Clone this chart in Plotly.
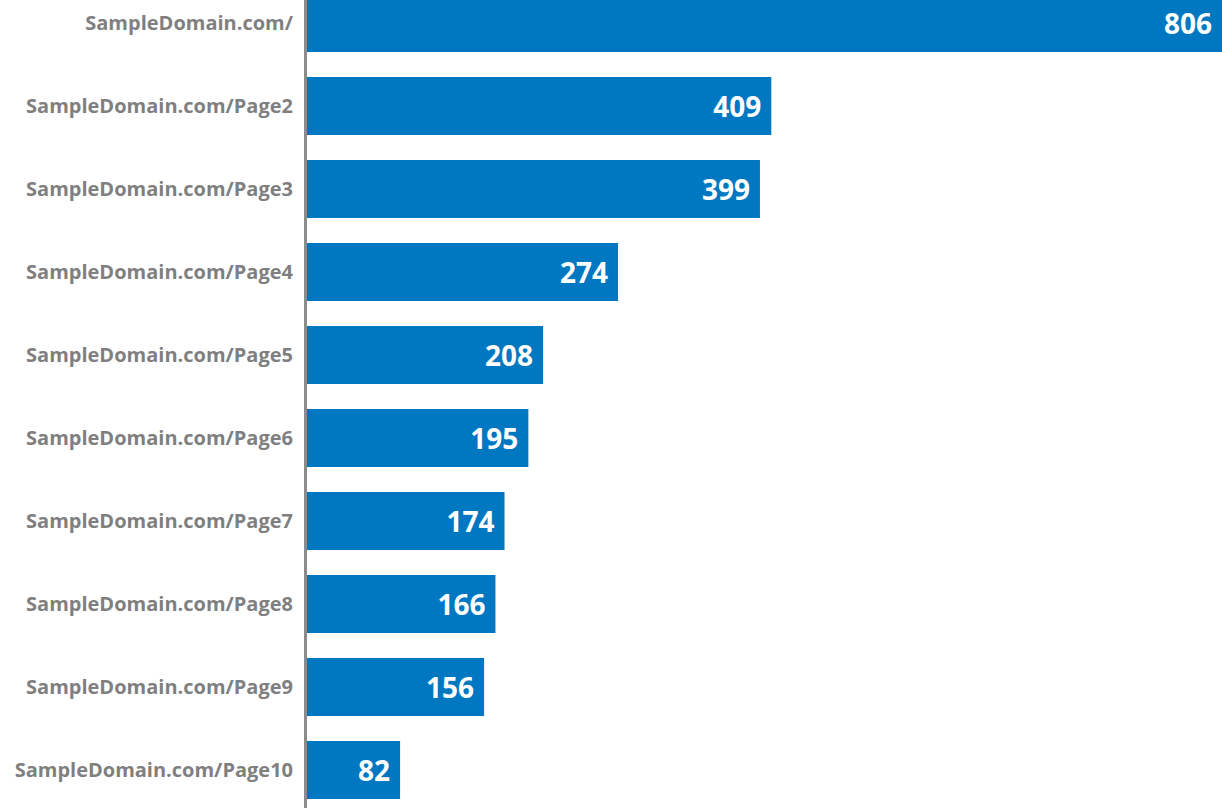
import plotly.graph_objects as go

categories = ["SampleDomain.com/", "SampleDomain.com/Page2", "SampleDomain.com/Page3",
              "SampleDomain.com/Page4", "SampleDomain.com/Page5", "SampleDomain.com/Page6",
              "SampleDomain.com/Page7", "SampleDomain.com/Page8", "SampleDomain.com/Page9",
              "SampleDomain.com/Page10"]
values = [806, 409, 399, 274, 208, 195, 174, 166, 156, 82]

fig = go.Figure(go.Bar(
    x=values, y=categories, orientation="h",
    marker=dict(color="#0078C1", line=dict(width=0)),
    text=[str(v) + "\u2005" for v in values], textposition="inside", insidetextanchor="end",
    textfont=dict(family="Open Sans", size=28, color="white", weight="bold"),
    cliponaxis=False,
))

fig.update_layout(
    width=1222, height=808,
    margin=dict(l=307, r=0, t=0, b=0),
    paper_bgcolor="white", plot_bgcolor="white",
    bargap=0.3, showlegend=False,
    xaxis=dict(range=[0, 806], visible=False),
    yaxis=dict(
        categoryorder="array", categoryarray=categories,
        range=[9.458, -0.277],
        showline=True, linecolor="#8C8C8C", linewidth=3,
        showgrid=False, zeroline=False, ticks="", ticklabelstandoff=7,
        tickfont=dict(family="Open Sans", size=20, color="#7F7F7F", weight="bold"),
    ),
)

fig.write_html("out.html", config={"displayModeBar": False},
               post_script="document.body.style.margin='0';document.body.style.overflow='hidden';")
